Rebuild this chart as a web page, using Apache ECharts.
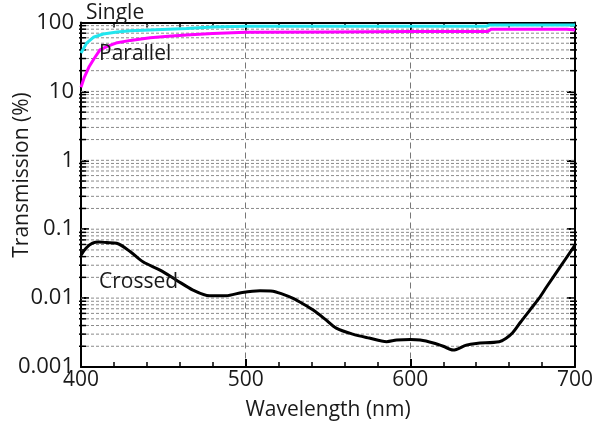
<!DOCTYPE html>
<html>
<head>
<meta charset="utf-8">
<script src="https://cdn.jsdelivr.net/npm/echarts@6/dist/echarts.min.js"></script>
<style>html,body{margin:0;padding:0;background:#fff}#c{width:596px;height:432px}</style>
</head>
<body>
<div id="c"></div>
<script>
// Wavelength (nm) and transmission (%) values
const singleWl = [400, 403.4, 407.5, 413.5, 422, 430, 442, 464, 480, 500, 550, 600, 646, 648, 700];
const singleT  = [36, 50, 61, 68, 73, 76, 78, 82, 86, 88, 88, 88, 88, 92, 92];

const parallelWl = [400, 402, 405, 408, 411.5, 416, 422, 430, 442, 453, 464, 480, 500, 550, 600, 647, 649, 695, 700];
const parallelT  = [11.5, 16, 23, 30, 40, 45, 51, 55, 60, 63, 66, 69, 72, 73, 74, 74, 80, 80, 78];

const crossedWl = [400, 403, 407, 411, 415.6, 421.7, 430, 437.6, 448, 458, 468, 478, 488, 498, 508.7, 516.6, 522, 528.8, 535, 541, 548, 555, 565, 575, 585.6, 591.7, 600, 606, 614, 620, 626, 634, 640, 654, 658, 662, 667, 672.6, 678, 682.8, 691, 700];
const crossedT  = [0.042, 0.053, 0.0627, 0.065, 0.064, 0.0627, 0.047, 0.0336, 0.0255, 0.0182, 0.0131, 0.0108, 0.0108, 0.0121, 0.0128, 0.0126, 0.0115, 0.0099, 0.0082, 0.0067, 0.005, 0.00367, 0.0030, 0.00263, 0.00233, 0.00246, 0.0025, 0.00246, 0.00223, 0.0020, 0.00176, 0.00208, 0.0022, 0.00233, 0.0026, 0.00311, 0.0045, 0.0067, 0.0098, 0.0146, 0.0284, 0.0586];

// Tick labels
const xTicks = [400, 500, 600, 700];
const yDecades = [0.001, 0.01, 0.1, 1, 10, 100];
const minorMultipliers = [2, 3, 4, 5, 6, 7, 8, 9];

// gridline values: [value, isMinor]
const gridVals = [];
yDecades.slice(0, -1).forEach((d, i) => {
  if (i > 0) gridVals.push([d, 0]);
  minorMultipliers.forEach(m => gridVals.push([+(d * m).toPrecision(2), 1]));
});

const pair = (xs, ys) => xs.map((x, i) => [x, ys[i]]);
const FONT = 'Open Sans';
const TXT = '#1a1a1a';

const chart = echarts.init(document.getElementById('c'), null, {renderer: 'canvas'});

function xAxisDef(pos, labels) {
  return {
    type: 'value', position: pos, min: xTicks[0], max: xTicks[xTicks.length - 1], interval: 100,
    axisLine: {show: true, lineStyle: {color: '#000', width: 2}},
    axisTick: {show: true, inside: true, length: 8, lineStyle: {color: '#000', width: 2}},
    minorTick: {show: true, splitNumber: 5, length: 5, lineStyle: {color: '#000', width: 1.5}},
    axisLabel: labels ? {show: true, fontFamily: FONT, fontSize: 21, color: TXT, margin: 3} : {show: false},
    splitLine: labels ? {show: true, lineStyle: {color: '#777', type: [6, 4], width: 1}} : {show: false}
  };
}
function yAxisDef(pos, labels) {
  return {
    type: 'log', logBase: 10, position: pos, min: yDecades[0], max: yDecades[yDecades.length - 1],
    axisLine: {show: true, lineStyle: {color: '#000', width: 2}},
    axisTick: {show: true, inside: true, length: 8, lineStyle: {color: '#000', width: 2}},
    splitLine: {show: false},
    axisLabel: labels ? {show: true, fontFamily: FONT, fontSize: 22, color: TXT, margin: 7,
      padding: [0, 0, 6, 0],
      formatter: v => String(Number((+v).toPrecision(1)))} : {show: false}
  };
}

chart.setOption({
  animation: false,
  backgroundColor: '#fff',
  grid: {left: 81, right: 21, top: 22.5, bottom: 65, outerBoundsMode: 'none'},
  xAxis: [
    Object.assign(xAxisDef('bottom', true), {
      name: 'Wavelength (nm)', nameLocation: 'middle', nameGap: 33,
      nameTextStyle: {fontFamily: FONT, fontSize: 21, color: TXT}
    }),
    xAxisDef('top', false)
  ],
  yAxis: [yAxisDef('left', true), yAxisDef('right', false)],
  series: [
    {
      type: 'custom', xAxisIndex: 0, yAxisIndex: 0, silent: true, z: 1,
      data: gridVals.map(g => [xTicks[0], g[0], g[1]]),
      renderItem: (params, api) => {
        const v = api.value(1);
        const minor = api.value(2);
        const p1 = api.coord([xTicks[0], v]);
        const p2 = api.coord([xTicks[xTicks.length - 1], v]);
        const children = [
          {type: 'line', shape: {x1: p1[0], y1: p1[1], x2: p2[0], y2: p2[1]},
           style: {stroke: '#8a8a8a', lineWidth: 1, lineDash: [3, 2]}}
        ];
        if (minor) {
          children.push(
            {type: 'line', shape: {x1: p1[0] - 2, y1: p1[1], x2: p1[0] + 5, y2: p1[1]},
             style: {stroke: '#000', lineWidth: 1.5}},
            {type: 'line', shape: {x1: p2[0] - 5, y1: p2[1], x2: p2[0] + 2, y2: p2[1]},
             style: {stroke: '#000', lineWidth: 1.5}});
        }
        return {type: 'group', children: children};
      }
    },
    {
      name: 'Single', type: 'line', data: pair(singleWl, singleT), showSymbol: false, z: 5,
      lineStyle: {color: '#22e6ee', width: 3}, itemStyle: {color: '#22e6ee'}
    },
    {
      name: 'Parallel', type: 'line', data: pair(parallelWl, parallelT), showSymbol: false, z: 6,
      lineStyle: {color: '#ff00ff', width: 3}, itemStyle: {color: '#ff00ff'}
    },
    {
      name: 'Crossed', type: 'line', data: pair(crossedWl, crossedT), showSymbol: false, smooth: 0.3, z: 5,
      lineStyle: {color: '#000', width: 3}, itemStyle: {color: '#000'}
    }
  ],
  graphic: [
    {type: 'text', x: 22, y: 175, rotation: Math.PI / 2, z: 100,
     style: {text: 'Transmission (%)', font: '21px "Open Sans"', fill: TXT, align: 'center', verticalAlign: 'middle'}},
    {type: 'text', left: 86, top: 3, z: 100, style: {text: 'Single', font: '21px "Open Sans"', fill: TXT}},
    {type: 'text', left: 99, top: 44, z: 100, style: {text: 'Parallel', font: '21px "Open Sans"', fill: TXT}},
    {type: 'text', left: 99, top: 272, z: 100, style: {text: 'Crossed', font: '21px "Open Sans"', fill: TXT}}
  ]
});
</script>
</body>
</html>
